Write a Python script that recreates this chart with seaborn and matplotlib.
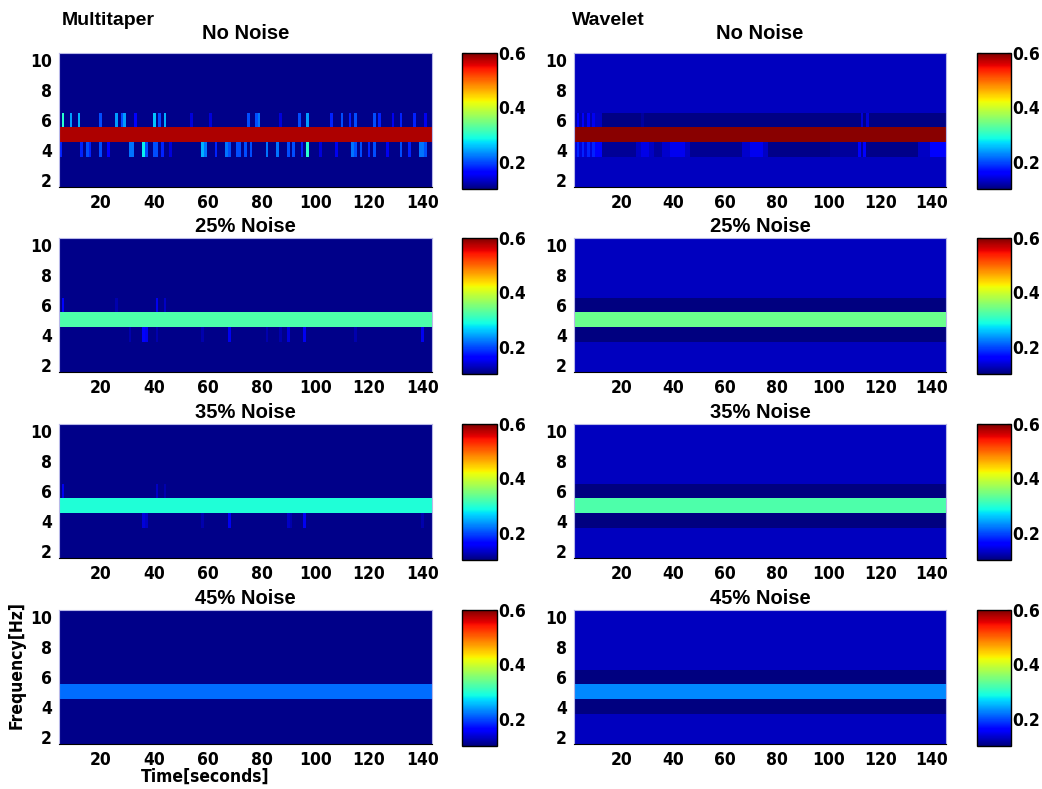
import numpy as np
import pandas as pd
import seaborn as sns
import matplotlib.pyplot as plt
from matplotlib import font_manager

# time / frequency grids
FREQS = [10, 9, 8, 7, 6, 5, 4, 3, 2]
BAND_FREQ = 5
MT_T0, MT_T1 = 5, 143
WL_T0, WL_T1 = 2, 145

noise_titles = ['No Noise', '25% Noise', '35% Noise', '45% Noise']
x_ticks = [20, 40, 60, 80, 100, 120, 140]
y_ticks = [2, 4, 6, 8, 10]
cbar_ticks = [0.2, 0.4, 0.6]
VMIN, VMAX = 0.1, 0.6

# multitaper levels
mt_background = [0.105, 0.105, 0.105, 0.105]
mt_band = [0.58, 0.322, 0.294, 0.217]

# multitaper spikes (time, value) next to the 5 Hz band
mt_f6 = [
    [(6, 0.30), (9, 0.24), (12, 0.25), (20, 0.20), (26, 0.24), (28, 0.20), (29, 0.24),
     (33, 0.16), (40, 0.26), (42, 0.20), (44, 0.25), (54, 0.14), (61, 0.14), (75, 0.20),
     (78, 0.20), (79, 0.22), (87, 0.14), (94, 0.20), (97, 0.24), (106, 0.18), (110, 0.20),
     (113, 0.18), (115, 0.20), (122, 0.20), (124, 0.18), (129, 0.15), (132, 0.18),
     (137, 0.18), (141, 0.15)],
    [(6, 0.16), (26, 0.12), (41, 0.15), (44, 0.13)],
    [(6, 0.15), (41, 0.13), (44, 0.12)],
    [],
]
mt_f4 = [
    [(5, 0.18), (13, 0.18), (15, 0.20), (16, 0.18), (20, 0.20), (23, 0.16), (31, 0.22),
     (32, 0.22), (36, 0.28), (37, 0.20), (40, 0.20), (41, 0.20), (43, 0.18), (46, 0.14),
     (58, 0.25), (59, 0.22), (63, 0.18), (67, 0.22), (68, 0.20), (71, 0.20), (72, 0.20),
     (74, 0.20), (76, 0.20), (82, 0.22), (86, 0.22), (90, 0.20), (92, 0.20), (95, 0.18),
     (97, 0.30), (102, 0.14), (108, 0.15), (114, 0.22), (115, 0.20), (117, 0.20),
     (120, 0.18), (122, 0.20), (127, 0.15), (132, 0.20), (135, 0.18), (139, 0.22),
     (140, 0.22), (141, 0.20)],
    [(31, 0.12), (36, 0.16), (37, 0.15), (41, 0.12), (58, 0.12), (68, 0.15), (82, 0.12),
     (87, 0.12), (90, 0.14), (96, 0.15), (115, 0.12), (140, 0.15)],
    [(36, 0.14), (37, 0.13), (58, 0.12), (68, 0.15), (90, 0.13), (91, 0.12), (96, 0.15),
     (140, 0.12)],
    [],
]

# wavelet levels
wl_background = [0.128, 0.128, 0.128, 0.128]
wl_side = [0.101, 0.101, 0.101, 0.101]
wl_band = [0.595, 0.34, 0.322, 0.23]

# wavelet no-noise side rows as (start, end, value) segments
wl_nonoise_f4 = [(2, 2, 0.14), (3, 3, 0.18), (4, 4, 0.14), (5, 5, 0.18), (6, 6, 0.14),
                 (7, 7, 0.18), (8, 8, 0.14), (9, 9, 0.18), (10, 12, 0.16), (13, 25, 0.11),
                 (26, 27, 0.13), (28, 30, 0.145), (31, 32, 0.13), (33, 35, 0.115),
                 (36, 38, 0.135), (39, 44, 0.15), (45, 46, 0.13), (47, 66, 0.108),
                 (67, 69, 0.135), (70, 74, 0.15), (75, 76, 0.13), (77, 100, 0.104),
                 (101, 111, 0.112), (112, 112, 0.16), (113, 113, 0.11), (114, 114, 0.16),
                 (115, 134, 0.104), (135, 139, 0.13), (140, 145, 0.155)]
wl_nonoise_f6 = [(2, 2, 0.12), (3, 3, 0.16), (4, 4, 0.12), (5, 5, 0.16), (6, 6, 0.12),
                 (7, 7, 0.16), (8, 8, 0.12), (9, 9, 0.15), (10, 12, 0.13), (13, 145, 0.102),
                 (28, 28, 0.115), (113, 113, 0.14), (115, 115, 0.14)]


def mt_frame(i):
    times = list(range(MT_T0, MT_T1 + 1))
    df = pd.DataFrame(mt_background[i], index=FREQS, columns=times)
    df.loc[BAND_FREQ, :] = mt_band[i]
    for t, v in mt_f6[i]:
        df.loc[6, t] = v
    for t, v in mt_f4[i]:
        df.loc[4, t] = v
    return df


def wl_frame(i):
    times = list(range(WL_T0, WL_T1 + 1))
    df = pd.DataFrame(wl_background[i], index=FREQS, columns=times)
    df.loc[4, :] = wl_side[i]
    df.loc[6, :] = wl_side[i]
    df.loc[BAND_FREQ, :] = wl_band[i]
    if i == 0:
        for a, b, v in wl_nonoise_f4:
            df.loc[4, a:b] = v
        for a, b, v in wl_nonoise_f6:
            df.loc[6, a:b] = v
    return df


sns.set_style("white")
plt.rcParams['font.family'] = ['Liberation Sans', 'DejaVu Sans']
plt.rcParams['text.color'] = 'black'
plt.rcParams['xtick.color'] = 'black'
plt.rcParams['ytick.color'] = 'black'

# narrow bold face for the numbers, if a condensed face is there
cond = [f for f in font_manager.fontManager.ttflist
        if f.name == 'DejaVu Sans' and 'condensed' in str(f.stretch) and f.weight in ('bold', 700)]
if cond:
    num_font = dict(family='DejaVu Sans', stretch='condensed', weight='bold', size=12.5)
else:
    num_font = dict(family='Liberation Sans', weight='bold', size=12)

W, H = 1042, 789
fig = plt.figure(figsize=(W / 100, H / 100), dpi=100)


def rect(x, y, w, h):
    return [x / W, 1 - (y + h) / H, w / W, h / H]


def style_num(lab):
    lab.set_fontfamily(num_font['family'])
    lab.set_fontweight('bold')
    lab.set_fontsize(num_font['size'])
    if 'stretch' in num_font:
        lab.set_fontstretch(num_font['stretch'])


row_tops = [53, 238, 424, 610]
cols = [(59, 373, 462, 35, mt_frame, MT_T0), (574, 372, 977, 34, wl_frame, WL_T0)]

for ci, (hx, hw, cx, cw, make, t0) in enumerate(cols):
    for ri, top in enumerate(row_tops):
        ax = fig.add_axes(rect(hx, top, hw, 134))
        cax = fig.add_axes(rect(cx, top, cw, 136))
        df = make(ri)
        sns.heatmap(df, ax=ax, cbar_ax=cax, cmap='jet', vmin=VMIN, vmax=VMAX,
                    xticklabels=False, yticklabels=False)
        ax.set_xticks([t - t0 + 0.5 for t in x_ticks])
        ax.set_xticklabels([str(t) for t in x_ticks], rotation=0)
        ax.set_yticks([FREQS.index(f) + 0.5 for f in y_ticks])
        ax.set_yticklabels([str(f) for f in y_ticks], rotation=0)
        ax.tick_params(length=0, pad=5)
        for lab in ax.get_xticklabels() + ax.get_yticklabels():
            style_num(lab)
        ax.set_xlabel('')
        ax.set_ylabel('')
        for side, s in ax.spines.items():
            s.set_visible(True)
            s.set_linewidth(0.8)
            s.set_color('black' if side == 'bottom' else '#b8b8e8')
        ax.set_title(noise_titles[ri], fontsize=14.5, fontweight='bold',
                     pad=10 if ri == 0 else 4.5)

        cb = ax.collections[0].colorbar
        cb.outline.set_visible(True)
        cb.outline.set_linewidth(1)
        cb.outline.set_edgecolor('black')
        cb.set_ticks(cbar_ticks)
        cb.set_ticklabels([f'{v:.1f}' for v in cbar_ticks])
        cax.tick_params(direction='in', length=3, pad=1, left=True, right=True)
        for lab in cax.get_yticklabels():
            style_num(lab)

fig.text(62 / W, 1 - 25 / H, 'Multitaper', fontsize=14, fontweight='bold', va='baseline')
fig.text(572 / W, 1 - 25 / H, 'Wavelet', fontsize=14, fontweight='bold', va='baseline')
fig.text(17 / W, 1 - 665 / H, 'Frequency[Hz]', rotation=90, ha='center', va='center',
         fontsize=12.5, fontweight='bold', family=num_font['family'],
         stretch=num_font.get('stretch', 'normal'))
fig.text(205 / W, 1 - 777 / H, 'Time[seconds]', ha='center', va='center',
         fontsize=12.5, fontweight='bold', family=num_font['family'],
         stretch=num_font.get('stretch', 'normal'))

plt.savefig('out.png', dpi=100)
plt.close()
